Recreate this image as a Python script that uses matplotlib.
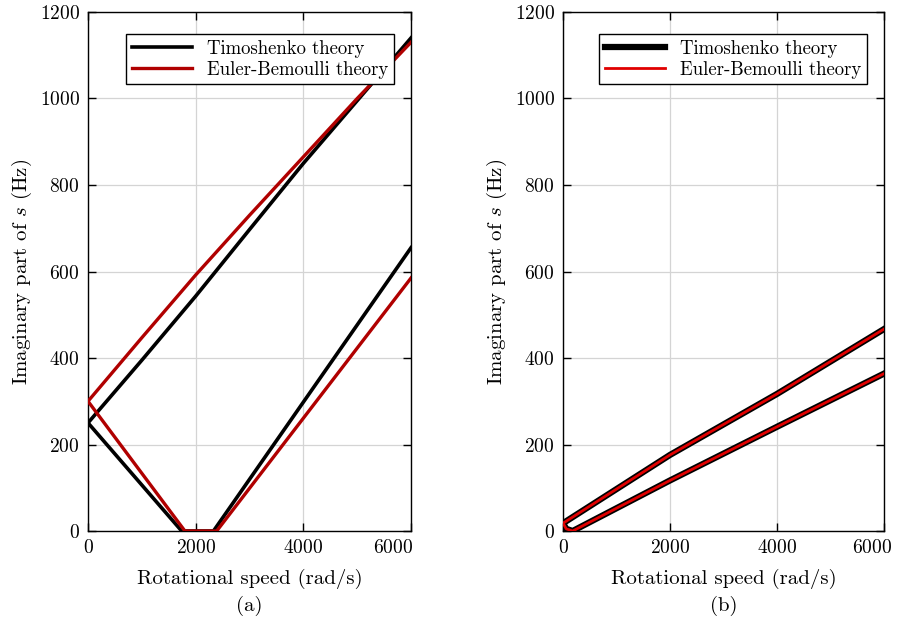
import matplotlib
matplotlib.use("Agg")
import matplotlib.pyplot as plt
from matplotlib.transforms import ScaledTranslation

plt.rcParams['font.family'] = ['cmr10', 'DejaVu Serif']
plt.rcParams['mathtext.fontset'] = 'cm'
plt.rcParams['axes.formatter.use_mathtext'] = True
plt.rcParams['axes.unicode_minus'] = False

# ---- data (a) ----
a_timo_up_x = [0, 1000, 2000, 3000, 4000, 5000, 6000]
a_timo_up_y = [250, 395, 543, 697, 850, 995, 1140]
a_timo_lo_x = [0, 1740, 2330, 6000]
a_timo_lo_y = [250, 0, 0, 655]
a_eb_up_x = [0, 1000, 2000, 3000, 4000, 5000, 6000]
a_eb_up_y = [300, 447, 592, 730, 865, 1000, 1130]
a_eb_lo_x = [0, 1800, 2390, 6000]
a_eb_lo_y = [300, 0, 0, 585]

# ---- data (b) ----
b_up_x = [0, 2000, 4000, 6000]
b_up_y = [18, 176, 317, 467]
b_lo_x = [0, 60, 180, 2000, 4000, 6000]
b_lo_y = [18, 5, 0, 117, 241, 364]

x_ticks = [0, 2000, 4000, 6000]
y_ticks = [0, 200, 400, 600, 800, 1000, 1200]

fig = plt.figure(figsize=(9, 6.21), dpi=100)
ax1 = fig.add_axes([0.0978, 0.1449, 0.3589, 0.8358])
ax2 = fig.add_axes([0.6256, 0.1449, 0.3567, 0.8358])

red = '#b00000'

ax1.plot(a_timo_up_x, a_timo_up_y, color='black', lw=2.6, label='Timoshenko theory', zorder=3)
ax1.plot(a_timo_lo_x, a_timo_lo_y, color='black', lw=2.6, zorder=3)
ax1.plot(a_eb_up_x, a_eb_up_y, color=red, lw=2.4, label='Euler-Bemoulli theory', zorder=4)
ax1.plot(a_eb_lo_x, a_eb_lo_y, color=red, lw=2.4, zorder=4)

ax2.plot(b_up_x, b_up_y, color='black', lw=4.5, label='Timoshenko theory', zorder=3, solid_joinstyle='round')
ax2.plot(b_lo_x, b_lo_y, color='black', lw=4.5, zorder=3, solid_joinstyle='round')
ax2.plot(b_up_x, b_up_y, color='#e00000', lw=2.0, label='Euler-Bemoulli theory', zorder=4)
ax2.plot(b_lo_x, b_lo_y, color='#e00000', lw=2.0, zorder=4)

for ax, lab, shift in ((ax1, '(a)', -18), (ax2, '(b)', -12)):
    ax.set_xlim(0, 6000)
    ax.set_ylim(0, 1200)
    ax.set_xticks(x_ticks)
    ax.set_yticks(y_ticks)
    ax.grid(True, color='#d4d4d4', lw=0.9)
    ax.set_axisbelow(True)
    ax.tick_params(direction='in', top=True, right=True, labelsize=14, length=6, width=1, pad=6)
    ax.set_xlabel('Rotational speed (rad/s)', fontsize=15, labelpad=8)
    ax.set_ylabel('Imaginary part of $s$ (Hz)', fontsize=15, labelpad=4)
    for s in ax.spines.values():
        s.set_linewidth(1.0)
    leg = ax.legend(loc='upper right', fontsize=13.5, fancybox=False, framealpha=1,
                    edgecolor='black', handlelength=3.2, borderpad=0.3,
                    labelspacing=0.15, bbox_to_anchor=(0.975, 0.975))
    leg.get_frame().set_linewidth(1.0)
    fig.canvas.draw()
    last = ax.get_xticklabels()[-1]
    last.set_transform(last.get_transform() + ScaledTranslation(shift / 100, 0, fig.dpi_scale_trans))
    pos = ax.get_position()
    fig.text((pos.x0 + pos.x1) / 2, 0.025, lab, ha='center', va='center', fontsize=15)

fig.savefig('out.png', dpi=100)
